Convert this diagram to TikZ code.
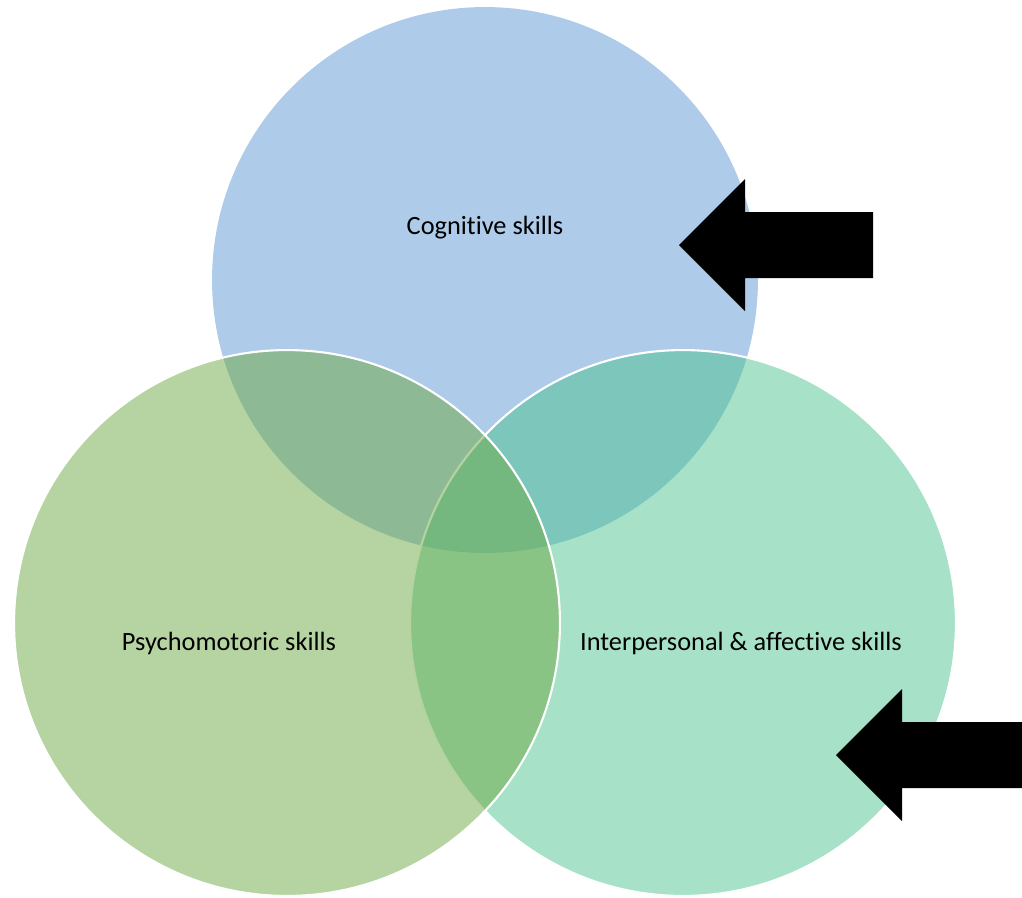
\documentclass[tikz,border=0pt]{standalone}
\usepackage{fontspec}
\setmainfont{Carlito}[Ligatures=NoCommon]
\usepackage{xcolor}
\usetikzlibrary{positioning}
\definecolor{cogblue}{HTML}{AECBE9}
\definecolor{psygreen}{HTML}{6DA943}
\definecolor{intergreen}{HTML}{4DC391}

\begin{document}
\begin{tikzpicture}[x=0.02cm, y=-0.02cm, font=\fontsize{15}{18}\selectfont,
    skill/.style={circle, minimum size=10.92cm, inner sep=0pt},
    skilltext/.style={text=black, inner sep=0pt},
    blockarrow/.style={fill=black}]

    \useasboundingbox (0,0) rectangle (1022,897);

    % the three domains (blue first, then teal, then green on top)
    \node (cog) [skill, fill=cogblue] at (485,280) {};
    \node (inter) [skill, fill=intergreen, fill opacity=0.5, draw=white, line width=1.2pt] at (683,623) {};
    \node (psy) [skill, fill=psygreen, fill opacity=0.5, draw=white, line width=1.2pt] at (287,623) {};

    \node (cogtext) [skilltext] at (485,228) {Cognitive skills};
    \node (psytext) [skilltext] at (229,643) {Psychomotoric skills};
    \node (intertext) [skilltext] at (741,643) {Interpersonal \& affective skills};

    % block arrows pointing at cognitive and interpersonal
    \fill[blockarrow] (679,245) -- ++(66,-66) -- ++(0,33) -- ++(128,0) -- ++(0,66)
      -- ++(-128,0) -- ++(0,33) -- cycle;
    \fill[blockarrow] (836,755) -- ++(66,-66) -- ++(0,33) -- ++(120,0) -- ++(0,66)
      -- ++(-120,0) -- ++(0,33) -- cycle;
\end{tikzpicture}
\end{document}
